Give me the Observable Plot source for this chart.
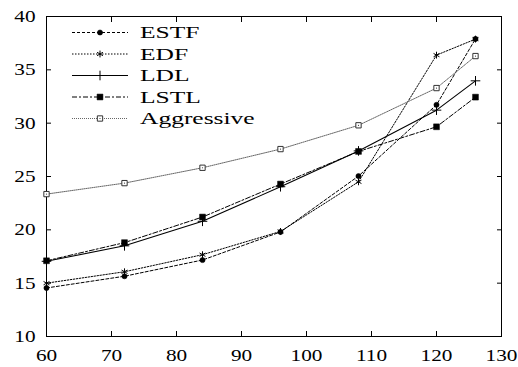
<!DOCTYPE html>
<html>
<head>
<meta charset="utf-8">
<script src="https://cdn.jsdelivr.net/npm/d3@7"></script>
<script src="https://cdn.jsdelivr.net/npm/@observablehq/plot@0.6"></script>
<style>
  html, body { margin: 0; padding: 0; background: #fff; }
</style>
</head>
<body>
<div id="chart"></div>
<script>
const xs = [60, 72, 84, 96, 108, 120, 126];
const seriesNames = ["ESTF", "EDF", "LDL", "LSTL", "Aggressive"];
const ESTF = [14.55, 15.65, 17.17, 19.8, 25.04, 31.72, 37.9];
const EDF = [15.0, 16.07, 17.67, 19.85, 24.5, 36.38, 37.88];
const LDL = [17.05, 18.5, 20.8, 24.04, 27.4, 31.22, 33.97];
const LSTL = [17.1, 18.8, 21.2, 24.29, 27.35, 29.66, 32.44];
const Aggressive = [23.35, 24.38, 25.82, 27.57, 29.8, 33.29, 36.29];
const xTicks = [60, 70, 80, 90, 100, 110, 120, 130];
const yTicks = [10, 15, 20, 25, 30, 35, 40];

const FONT = "'Liberation Serif', 'Times New Roman', Times, serif";

const values = {ESTF, EDF, LDL, LSTL, Aggressive};
const styles = {
  ESTF: {stroke: "#000", dash: "3,2", width: 1, symbol: "circle", fill: "#000", r: 2.6},
  EDF: {stroke: "#000", dash: "1.5,1.5", width: 1, symbol: "asterisk", fill: "none", r: 3.2},
  LDL: {stroke: "#000", dash: null, width: 1.1, symbol: "plus", fill: "none", r: 3.2},
  LSTL: {stroke: "#000", dash: "5,2,2,2", width: 1, symbol: "square", fill: "#000", r: 3.3},
  Aggressive: {stroke: "#666", dash: "1,1", width: 1, symbol: "square", fill: "none", r: 3.0}
};

const data = seriesNames.flatMap(name => xs.map((x, i) => ({name, x, y: values[name][i]})));

const marks = [];
for (const name of seriesNames) {
  const s = styles[name];
  const d = data.filter(e => e.name === name);
  marks.push(Plot.line(d, {x: "x", y: "y", stroke: s.stroke, strokeWidth: s.width, strokeDasharray: s.dash}));
  marks.push(Plot.dot(d, {x: "x", y: "y", symbol: () => s.symbol, r: s.r, fill: s.symbol === "square" && s.fill === "none" ? "#fff" : s.fill, stroke: s.symbol === "square" && s.fill === "none" ? "#333" : "#000", strokeWidth: s.fill === "none" ? 1 : 0.5}));
  if (name === "Aggressive") {
    marks.push(Plot.dot(d, {x: "x", y: "y", r: 0.6, fill: "#333"}));
  }
}

const plot = Plot.plot({
  width: 518,
  height: 367,
  marginLeft: 46,
  marginRight: 17,
  marginTop: 16,
  marginBottom: 31,
  style: {fontFamily: FONT, fontSize: "17px", background: "#fff", color: "#000"},
  x: {domain: [60, 130], label: null},
  y: {domain: [10, 40], label: null},
  marks: [
    Plot.frame({stroke: "#000", strokeWidth: 1}),
    Plot.axisX(xTicks, {anchor: "bottom", tickSize: 0, tickPadding: 12, label: null, fontSize: 17}),
    Plot.axisX(xTicks, {anchor: "bottom", tickSize: -5, tickFormat: () => "", label: null}),
    Plot.axisX(xTicks, {anchor: "top", tickSize: -5, tickFormat: () => "", label: null}),
    Plot.axisY(yTicks, {anchor: "left", tickSize: 0, tickPadding: 11, label: null, fontSize: 17}),
    Plot.axisY(yTicks, {anchor: "left", tickSize: -5, tickFormat: () => "", label: null}),
    Plot.axisY(yTicks, {anchor: "right", tickSize: -5, tickFormat: () => "", label: null}),
    ...marks
  ]
});

document.getElementById("chart").appendChild(plot);

// widen tick labels horizontally like the reference
d3.select(plot).selectAll("g[aria-label='x-axis tick label'] text, g[aria-label='y-axis tick label'] text")
  .attr("font-family", FONT)
  .each(function() {
    const t = this.getAttribute("transform") || "";
    this.setAttribute("transform", t + " scale(1.25,1)");
  });

// Legend (inside plot, top-left)
const svg = d3.select(plot);
const lg = svg.append("g").attr("class", "legend").attr("text-anchor", "start");
const symbolFor = {circle: d3.symbolCircle, asterisk: d3.symbolAsterisk, plus: d3.symbolPlus, square: d3.symbolSquare};
seriesNames.forEach((name, i) => {
  const s = styles[name];
  const cy = 32.5 + i * 21.5;
  const g = lg.append("g");
  g.append("line").attr("x1", 72).attr("x2", 128).attr("y1", cy).attr("y2", cy)
    .attr("stroke", s.stroke).attr("stroke-width", s.width)
    .attr("stroke-dasharray", s.dash);
  const area = Math.PI * s.r * s.r;
  g.append("path").attr("transform", `translate(100,${cy})`)
    .attr("d", d3.symbol(symbolFor[s.symbol], area)())
    .attr("fill", s.fill === "none" ? (s.symbol === "square" ? "#fff" : "none") : s.fill)
    .attr("stroke", s.symbol === "square" && s.fill === "none" ? "#333" : "#000").attr("stroke-width", s.fill === "none" ? 1 : 0.5);
  if (name === "Aggressive") g.append("circle").attr("cx", 100).attr("cy", cy).attr("r", 0.6).attr("fill", "#333");
  g.append("text").attr("transform", `translate(140,${cy}) scale(1.5,1)`)
    .attr("text-anchor", "start")
    .attr("font-family", FONT)
    .attr("dy", "0.34em").attr("font-size", 17).attr("fill", "#000").text(name);
});
</script>
</body>
</html>
